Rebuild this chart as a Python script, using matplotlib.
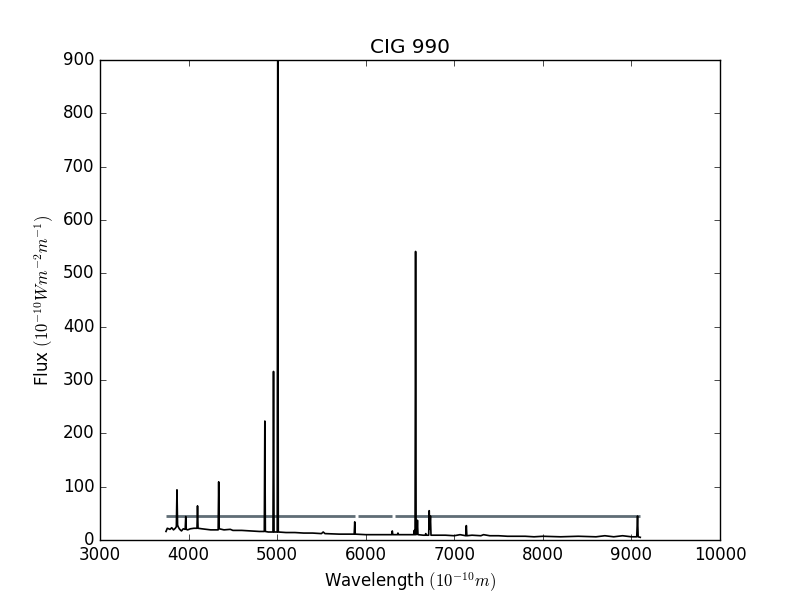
import numpy as np
import matplotlib
matplotlib.use('Agg')
import matplotlib.pyplot as plt

plt.style.use('classic')

# spectrum (wavelength in Angstrom, flux)
wave = [3745, 3760, 3790, 3810, 3830, 3850, 3862, 3869, 3876, 3885, 3900, 3920,
        3940, 3962, 3968, 3974, 3990, 4020, 4060, 4095, 4101, 4107, 4150, 4200,
        4250, 4334, 4340, 4346, 4400, 4471, 4500, 4600, 4700, 4800, 4855, 4861,
        4867, 4900, 4953, 4959, 4965, 5001, 5007, 5013, 5100, 5200, 5300, 5400,
        5500, 5520, 5540, 5700, 5800, 5870, 5876, 5882, 6000, 6100, 6200, 6294,
        6300, 6306, 6358, 6364, 6370, 6500, 6542, 6548, 6554, 6557, 6563, 6569,
        6578, 6584, 6590, 6650, 6672, 6678, 6684, 6711, 6717, 6723, 6731, 6737,
        6800, 6900, 7000, 7065, 7130, 7136, 7142, 7200, 7300, 7330, 7400, 7500,
        7600, 7700, 7800, 7900, 8000, 8200, 8400, 8600, 8700, 8800, 8900, 9000,
        9060, 9069, 9076, 9100]
flux = [16, 22, 20, 23, 19, 22, 25, 94, 28, 24, 20, 17,
        21, 20, 44, 20, 19, 21, 22, 22, 64, 22, 21, 20,
        19, 19, 109, 21, 19, 20, 18, 18, 17, 16, 16, 223,
        16, 15, 15, 316, 15, 15, 1000, 15, 14, 14, 13, 13,
        12, 15, 12, 11, 11, 11, 34, 11, 10, 10, 10, 10,
        17, 10, 10, 13, 10, 10, 10, 18, 10, 10, 541, 10,
        12, 37, 10, 9, 9, 12, 9, 9, 55, 20, 45, 9,
        9, 9, 8, 10, 8, 27, 8, 9, 8, 10, 8, 8,
        7, 7, 7, 6, 7, 6, 7, 6, 8, 6, 8, 6,
        6, 45, 6, 5]

# flat grey level with its gaps
grey_level = 45
grey_segments = [(3745, 5878), (5912, 6294), (6328, 9095)]

fig = plt.figure(figsize=(8, 6), dpi=100)
ax = fig.add_subplot(111)

for x0, x1 in grey_segments:
    ax.plot([x0, x1], [grey_level, grey_level], color='#5f6d75', lw=2,
            solid_capstyle='butt')
ax.plot(wave, flux, color='k', lw=1.2)

ax.set_xlim(3000, 10000)
ax.set_ylim(0, 900)
ax.set_title('CIG 990')
ax.set_xlabel(r'Wavelength $(10^{-10}m)$')
ax.set_ylabel(r'Flux $(10^{-10}Wm^{-2}m^{-1})$')

fig.savefig('out.png', dpi=100, facecolor='white')
